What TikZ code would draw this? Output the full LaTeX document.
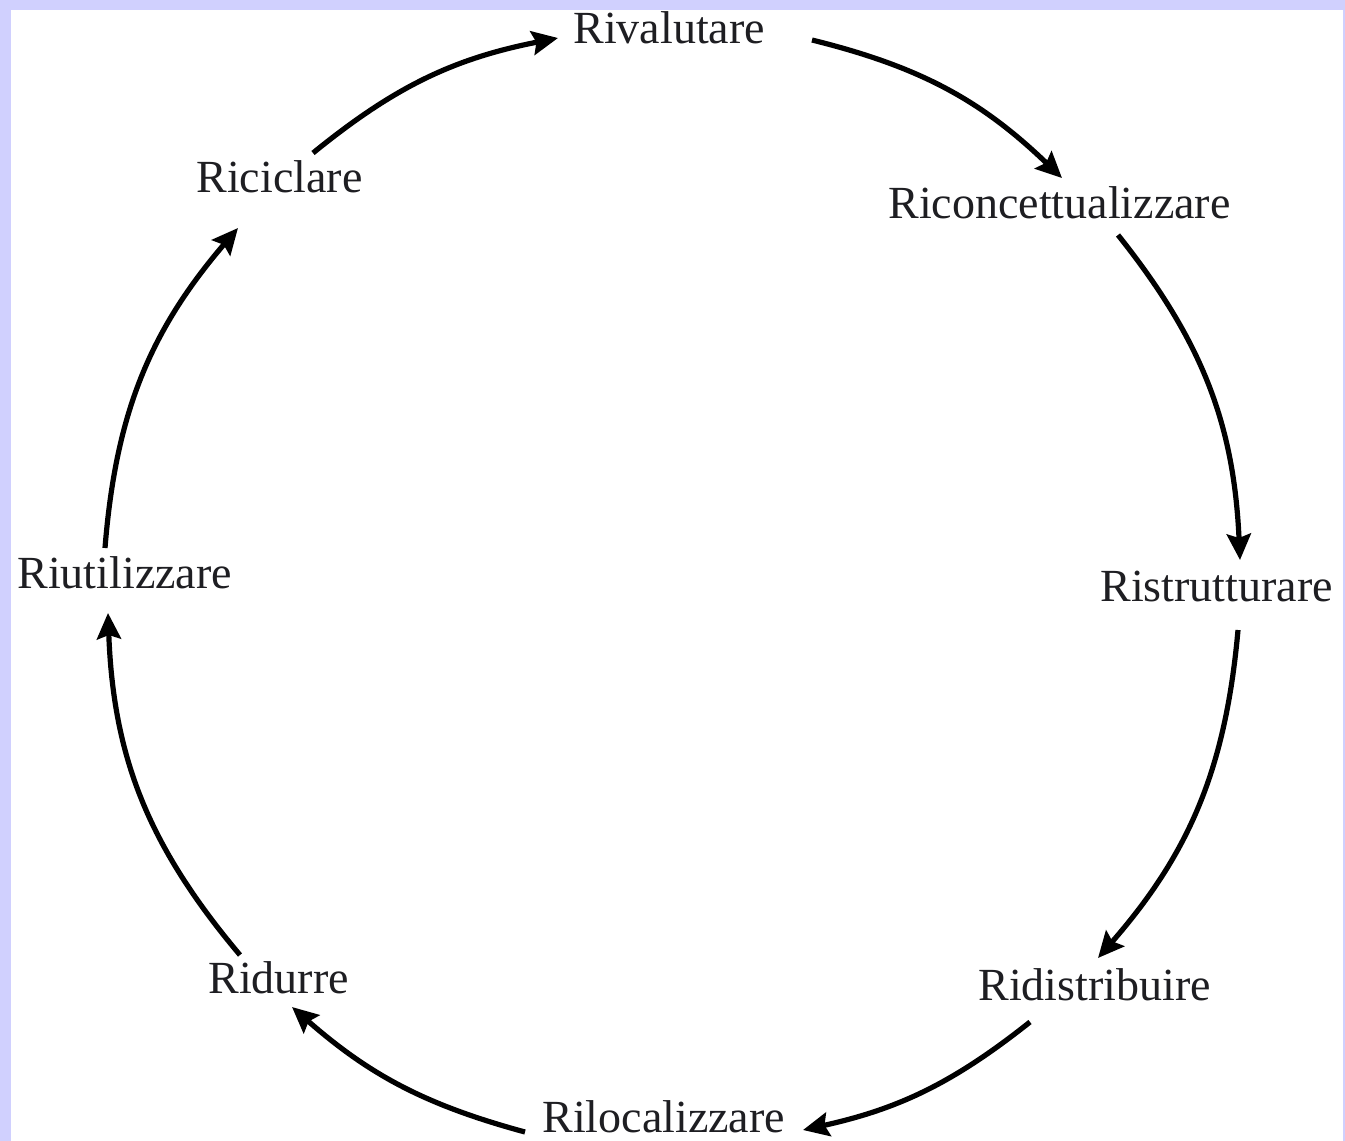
\documentclass[tikz,border=0pt]{standalone}
\usepackage{fontspec}
\setmainfont{Liberation Serif}
\usetikzlibrary{arrows.meta}
\definecolor{frame}{HTML}{D0D0FE}
\definecolor{ink}{HTML}{1E1E22}
\begin{document}
\begin{tikzpicture}[x=0.5pt,y=-0.5pt,
  lbl/.style={inner sep=0pt,anchor=base west,text=ink,font=\fontsize{23}{27}\selectfont},
  cyc/.style={line width=2.6pt,draw=black,-{Stealth[length=13pt,width=12pt,inset=2pt]}}]
\useasboundingbox (0,0) rectangle (1345,1141);
\fill[frame] (0,0) rectangle (1345,1141);
\fill[white] (11,10) rectangle (1343,1141);
% labels
\node[lbl] (rival) at (573,43) {Rivalutare};
\node[lbl] (ricon) at (888,218) {Riconcettualizzare};
\node[lbl] (ristr) at (1100,601) {Ristrutturare};
\node[lbl] (ridis) at (978,1000) {Ridistribuire};
\node[lbl] (riloc) at (542,1132) {Rilocalizzare};
\node[lbl] (ridur) at (208,993) {Ridurre};
\node[lbl] (riuti) at (17,588) {Riutilizzare};
\node[lbl] (ricic) at (196,192) {Riciclare};
% arrow end points
\coordinate (a1) at (313,153);  \coordinate (b1) at (558,38);
\coordinate (a2) at (812,40);   \coordinate (b2) at (1062,178);
\coordinate (a3) at (1118,235); \coordinate (b3) at (1240,560);
\coordinate (a4) at (1238,630); \coordinate (b4) at (1098,958);
\coordinate (a5) at (1030,1022);\coordinate (b5) at (803,1130);
\coordinate (a6) at (525,1132); \coordinate (b6) at (292,1007);
\coordinate (a7) at (240,955);  \coordinate (b7) at (108,613);
\coordinate (a8) at (105,548);  \coordinate (b8) at (238,228);
% connectors
\draw[cyc] (a1) to[bend left=14] (b1);
\draw[cyc] (a2) to[bend left=15] (b2);
\draw[cyc] (a3) to[bend left=18] (b3);
\draw[cyc] (a4) to[bend left=18] (b4);
\draw[cyc] (a5) to[bend left=13] (b5);
\draw[cyc] (a6) to[bend left=13] (b6);
\draw[cyc] (a7) to[bend left=19] (b7);
\draw[cyc] (a8) to[bend left=18] (b8);
\end{tikzpicture}
\end{document}
